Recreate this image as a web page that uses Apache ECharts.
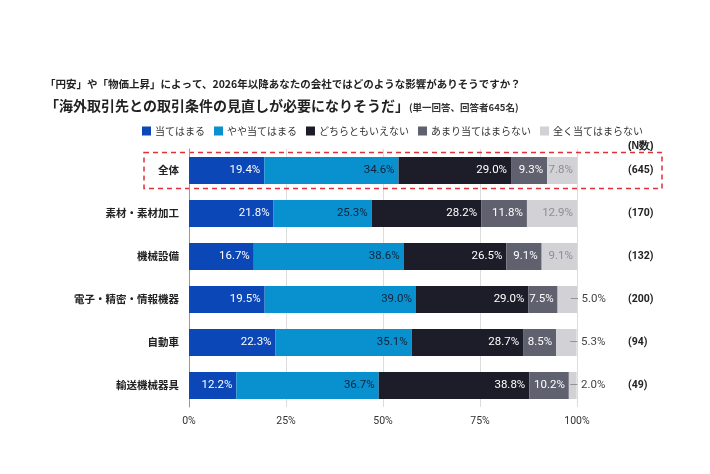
<!DOCTYPE html>
<html><head><meta charset="utf-8">
<script src="https://cdn.jsdelivr.net/npm/echarts@6/dist/echarts.min.js"></script>
<style>html,body{margin:0;padding:0;background:#fff}#c{width:710px;height:474px}</style>
</head><body><div id="c"></div>
<script>
var categories = ['全体', '素材・素材加工', '機械設備', '電子・精密・情報機器', '自動車', '輸送機械器具'];
var nLabels = ['(645)', '(170)', '(132)', '(200)', '(94)', '(49)'];
var seriesNames = ['当てはまる', 'やや当てはまる', 'どちらともいえない', 'あまり当てはまらない', '全く当てはまらない'];
var s1 = [19.4, 21.8, 16.7, 19.5, 22.3, 12.2];
var s2 = [34.6, 25.3, 38.6, 39.0, 35.1, 36.7];
var s3 = [29.0, 28.2, 26.5, 29.0, 28.7, 38.8];
var s4 = [9.3, 11.8, 9.1, 7.5, 8.5, 10.2];
var s5 = [7.8, 12.9, 9.1, 5.0, 5.3, 2.0];
var xTicks = [0, 25, 50, 75, 100];

var FONT = "'Noto Sans CJK JP', 'Noto Sans', sans-serif";
var NUMFONT = "Roboto, 'Noto Sans CJK JP', sans-serif";
var colors = ['#0b47b6', '#0990cf', '#1d1d29', '#60616e', '#d1d1d6'];
var labelColors = ['#ffffff', '#13243a', '#ffffff', '#ffffff', '#8d8d93'];
var values = [s1, s2, s3, s4, s5];

var chart = echarts.init(document.getElementById('c'));

function fmt(p) { return p.value.toFixed(1) + '%'; }

var series = values.map(function (arr, i) {
  var data = arr.map(function (v) {
    if (i === 4 && v < 6) {
      return {
        value: v,
        label: {
          position: 'right', distance: 0, offset: [-7, 0],
          formatter: function (p) { return '{d|—} ' + p.value.toFixed(1) + '%'; },
          color: '#444',
          rich: { d: { color: '#888', fontSize: 11, fontFamily: NUMFONT } }
        }
      };
    }
    return v;
  });
  return {
    name: seriesNames[i],
    type: 'bar',
    stack: 'total',
    barWidth: 27,
    data: data,
    itemStyle: { color: colors[i] },
    label: {
      show: true, position: 'insideRight', distance: 4,
      formatter: fmt, color: labelColors[i],
      fontSize: 11.5, fontFamily: NUMFONT
    },
    emphasis: { disabled: true }
  };
});

chart.setOption({
  animation: false,
  color: colors,
  title: [
    {
      text: '「円安」や「物価上昇」によって、2026年以降あなたの会社ではどのような影響がありそうですか？',
      left: 40, top: 74,
      textStyle: { fontSize: 10.5, fontWeight: 'bold', color: '#222', fontFamily: FONT }
    },
    {
      text: '{a|「海外取引先との取引条件の見直しが必要になりそうだ」}{b|(単一回答、回答者645名)}',
      left: 40, top: 94,
      textStyle: {
        rich: {
          a: { fontSize: 14, fontWeight: 'bold', color: '#222', fontFamily: FONT },
          b: { fontSize: 9.5, fontWeight: 'bold', color: '#333', fontFamily: FONT, padding: [3, 0, 0, 0] }
        }
      }
    }
  ],
  legend: {
    data: seriesNames,
    left: 137, top: 121,
    itemWidth: 9, itemHeight: 9, itemGap: 9,
    icon: 'rect',
    textStyle: { fontSize: 10, color: '#333', fontFamily: FONT, padding: [0, 0, 0, -1] }
  },
  grid: { left: 189, right: 133, top: 149, height: 258, containLabel: false },
  xAxis: {
    type: 'value', min: 0, max: 100, interval: 25,
    axisLabel: {
      formatter: function (v) { return xTicks.indexOf(v) >= 0 ? v + '%' : ''; },
      fontSize: 10.5, color: '#333', fontFamily: NUMFONT, margin: 9
    },
    splitLine: { lineStyle: { color: '#dcdcdc', width: 1 } },
    axisLine: { show: false }, axisTick: { show: false }
  },
  yAxis: [
    {
      type: 'category', data: categories, inverse: true,
      axisLine: { show: true, lineStyle: { color: '#999' } },
      axisTick: { show: false },
      axisLabel: { fontSize: 10.5, fontWeight: 'bold', color: '#222', fontFamily: FONT, margin: 10 }
    },
    {
      type: 'category', data: nLabels, inverse: true, position: 'right',
      axisLine: { show: false }, axisTick: { show: false },
      axisLabel: { fontSize: 10.5, fontWeight: 'bold', color: '#222', fontFamily: NUMFONT, margin: 51, align: 'left' }
    }
  ],
  series: series
});

var yc = chart.convertToPixel({ yAxisIndex: 0 }, categories[0]);
var xr = chart.convertToPixel({ xAxisIndex: 0 }, 100);
chart.setOption({
  graphic: [
    {
      type: 'rect', silent: true,
      shape: { x: 144, y: yc - 18, width: 518, height: 36 },
      style: { fill: 'none', stroke: '#e0303a', lineWidth: 1.5, lineDash: [5, 4] }
    },
    {
      type: 'text', left: xr + 51, top: 141,
      style: { text: '(N数)', fontSize: 10.5, fontWeight: 'bold', fill: '#222', font: 'bold 10.5px ' + FONT }
    }
  ]
});
</script></body></html>
